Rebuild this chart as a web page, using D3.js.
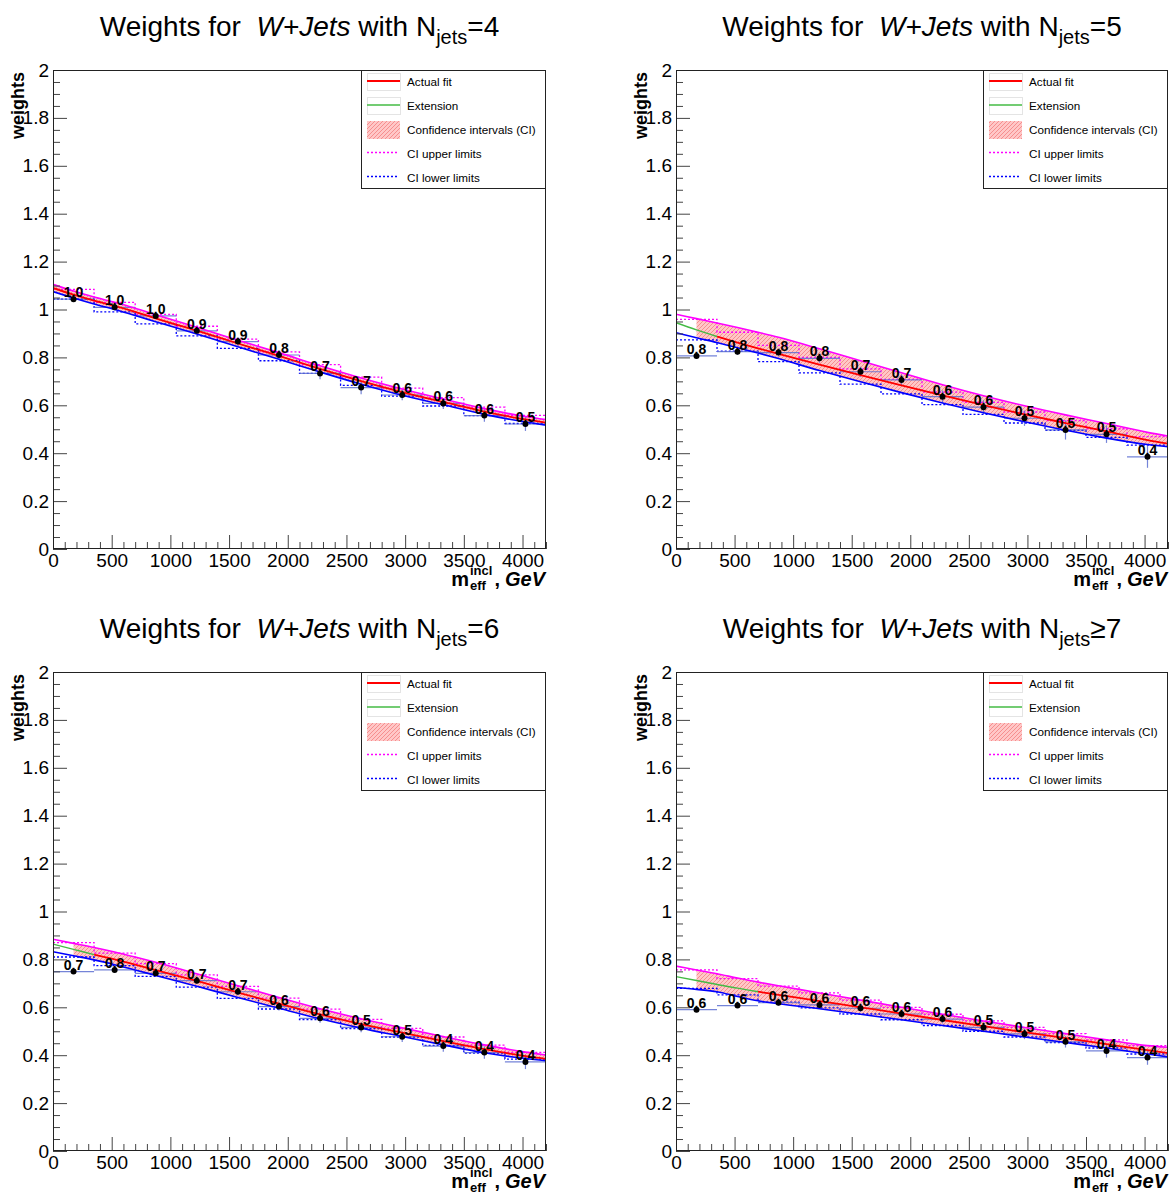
<!DOCTYPE html>
<html>
<head>
<meta charset="utf-8">
<script src="https://cdn.jsdelivr.net/npm/d3@7"></script>
<style>
  html, body { margin: 0; padding: 0; background: #fff; }
  svg { display: block; font-family: "Liberation Sans", Arial, Helvetica, sans-serif; }
</style>
</head>
<body>
<svg id="chart" width="1172" height="1199"></svg>
<script>
// ---- shared binning and axis definitions ----
const binEdges = [0, 350, 700, 1050, 1400, 1750, 2100, 2450, 2800, 3150, 3500, 3850, 4200];
const curveX   = [0, 175, 350, 525, 700, 875, 1225, 1575, 1925, 2275, 2625, 2975, 3325, 3675, 4025, 4200];
const xTicks      = [0, 500, 1000, 1500, 2000, 2500, 3000, 3500, 4000];
const xTickLabels = ["0", "500", "1000", "1500", "2000", "2500", "3000", "3500", "4000"];
const yTicks      = [0, 0.2, 0.4, 0.6, 0.8, 1, 1.2, 1.4, 1.6, 1.8, 2];
const yTickLabels = ["0", "0.2", "0.4", "0.6", "0.8", "1", "1.2", "1.4", "1.6", "1.8", "2"];
const jetLabels   = ["=4", "=5", "=6", "\u22657"];
const bandStart   = [0, 175, 175, 175];
const legendLabels = ["Actual fit", "Extension", "Confidence intervals (CI)", "CI upper limits", "CI lower limits"];

// ---- N_jets = 4 ----
const weightsNj4   = [1.043, 1.009, 0.973, 0.911, 0.866, 0.810, 0.733, 0.674, 0.643, 0.608, 0.557, 0.522];
const errorsNj4    = [0.010, 0.011, 0.013, 0.015, 0.017, 0.019, 0.024, 0.028, 0.022, 0.023, 0.026, 0.029];
const extNj4       = [null, null, null, null, null, null, null, null, null, null, null, null, null, null, null, null];
const fitNj4       = [1.090, 1.062, 1.037, 1.015, 0.990, 0.963, 0.912, 0.858, 0.806, 0.752, 0.701, 0.655, 0.614, 0.574, 0.541, 0.528];
const upperNj4     = [1.105, 1.077, 1.052, 1.030, 1.005, 0.978, 0.926, 0.872, 0.820, 0.765, 0.714, 0.668, 0.626, 0.586, 0.553, 0.540];
const lowerNj4     = [1.075, 1.048, 1.023, 1.000, 0.975, 0.949, 0.898, 0.844, 0.792, 0.739, 0.688, 0.642, 0.602, 0.562, 0.530, 0.517];
const upperBinsNj4 = [1.084, 1.030, 0.980, 0.930, 0.876, 0.823, 0.770, 0.718, 0.672, 0.632, 0.592, 0.558];
const lowerBinsNj4 = [1.043, 0.990, 0.940, 0.890, 0.838, 0.786, 0.733, 0.683, 0.638, 0.597, 0.557, 0.524];

// ---- N_jets = 5 ----
const weightsNj5   = [0.806, 0.824, 0.820, 0.796, 0.740, 0.706, 0.636, 0.592, 0.546, 0.497, 0.479, 0.385];
const errorsNj5    = [0.012, 0.014, 0.016, 0.018, 0.021, 0.023, 0.026, 0.029, 0.032, 0.040, 0.036, 0.046];
const extNj5       = [0.945, 0.915, 0.887, null, null, null, null, null, null, null, null, null, null, null, null, null];
const fitNj5       = [null, null, 0.887, 0.862, 0.838, 0.815, 0.770, 0.726, 0.683, 0.641, 0.601, 0.562, 0.526, 0.491, 0.455, 0.440];
const upperNj5     = [0.980, 0.962, 0.944, 0.925, 0.905, 0.884, 0.836, 0.786, 0.736, 0.686, 0.640, 0.598, 0.560, 0.524, 0.487, 0.472];
const lowerNj5     = [0.903, 0.882, 0.862, 0.840, 0.818, 0.795, 0.745, 0.698, 0.653, 0.610, 0.569, 0.531, 0.496, 0.463, 0.436, 0.427];
const upperBinsNj5 = [0.959, 0.905, 0.850, 0.800, 0.752, 0.708, 0.655, 0.612, 0.572, 0.536, 0.502, 0.469];
const lowerBinsNj5 = [0.873, 0.826, 0.782, 0.735, 0.688, 0.648, 0.603, 0.562, 0.526, 0.495, 0.466, 0.434];

// ---- N_jets = 6 ----
const weightsNj6   = [0.749, 0.756, 0.742, 0.711, 0.665, 0.603, 0.554, 0.516, 0.477, 0.438, 0.411, 0.372];
const errorsNj6    = [0.010, 0.010, 0.012, 0.013, 0.015, 0.016, 0.018, 0.020, 0.022, 0.024, 0.026, 0.030];
const extNj6       = [0.864, 0.842, 0.820, null, null, null, null, null, null, null, null, null, null, null, null, null];
const fitNj6       = [null, null, 0.820, 0.800, 0.778, 0.755, 0.710, 0.662, 0.615, 0.570, 0.530, 0.494, 0.459, 0.425, 0.396, 0.385];
const upperNj6     = [0.884, 0.867, 0.850, 0.831, 0.810, 0.788, 0.740, 0.690, 0.641, 0.594, 0.552, 0.514, 0.478, 0.443, 0.413, 0.401];
const lowerNj6     = [0.832, 0.815, 0.798, 0.778, 0.756, 0.733, 0.688, 0.641, 0.596, 0.552, 0.513, 0.478, 0.443, 0.410, 0.386, 0.377];
const upperBinsNj6 = [0.870, 0.826, 0.782, 0.735, 0.687, 0.638, 0.592, 0.550, 0.512, 0.476, 0.442, 0.412];
const lowerBinsNj6 = [0.810, 0.774, 0.729, 0.684, 0.637, 0.593, 0.549, 0.511, 0.476, 0.441, 0.409, 0.384];

// ---- N_jets >= 7 ----
const weightsNj7   = [0.590, 0.607, 0.619, 0.610, 0.596, 0.572, 0.551, 0.516, 0.489, 0.456, 0.418, 0.390];
const errorsNj7    = [0.010, 0.010, 0.012, 0.013, 0.015, 0.016, 0.018, 0.020, 0.022, 0.024, 0.028, 0.030];
const extNj7       = [0.728, 0.712, 0.695, 0.680, 0.665, null, null, null, null, null, null, null, null, null, null, null];
const fitNj7       = [null, null, null, null, 0.665, 0.652, 0.626, 0.600, 0.574, 0.547, 0.521, 0.496, 0.471, 0.446, 0.421, 0.409];
const upperNj7     = [0.772, 0.756, 0.740, 0.722, 0.705, 0.690, 0.660, 0.630, 0.600, 0.571, 0.543, 0.516, 0.490, 0.464, 0.440, 0.433];
const lowerNj7     = [0.683, 0.675, 0.665, 0.645, 0.627, 0.615, 0.594, 0.571, 0.548, 0.524, 0.500, 0.476, 0.453, 0.430, 0.405, 0.393];
const upperBinsNj7 = [0.756, 0.720, 0.688, 0.660, 0.630, 0.600, 0.571, 0.543, 0.516, 0.490, 0.464, 0.440];
const lowerBinsNj7 = [0.679, 0.652, 0.622, 0.598, 0.572, 0.548, 0.524, 0.500, 0.476, 0.453, 0.430, 0.405];

const panels = [
  { jets: jetLabels[0], weights: weightsNj4, errors: errorsNj4, ext: extNj4, fit: fitNj4, upper: upperNj4, lower: lowerNj4, upperBins: upperBinsNj4, lowerBins: lowerBinsNj4, band: bandStart[0] },
  { jets: jetLabels[1], weights: weightsNj5, errors: errorsNj5, ext: extNj5, fit: fitNj5, upper: upperNj5, lower: lowerNj5, upperBins: upperBinsNj5, lowerBins: lowerBinsNj5, band: bandStart[1] },
  { jets: jetLabels[2], weights: weightsNj6, errors: errorsNj6, ext: extNj6, fit: fitNj6, upper: upperNj6, lower: lowerNj6, upperBins: upperBinsNj6, lowerBins: lowerBinsNj6, band: bandStart[2] },
  { jets: jetLabels[3], weights: weightsNj7, errors: errorsNj7, ext: extNj7, fit: fitNj7, upper: upperNj7, lower: lowerNj7, upperBins: upperBinsNj7, lowerBins: lowerBinsNj7, band: bandStart[3] }
];

// frame boxes of the 2x2 grid
const frames = [
  { left: 53,  top: 70,  width: 493, height: 479 },
  { left: 676, top: 70,  width: 492, height: 479 },
  { left: 53,  top: 672, width: 493, height: 479 },
  { left: 676, top: 672, width: 492, height: 479 }
];

const COL = {
  fit: "#ff0000", ext: "#44bb44", upper: "#ff00ff", lower: "#0000ff",
  err: "#5d6fd2", axis: "#222", tick: "#444"
};

const svg = d3.select("#chart");
svg.append("rect").attr("width", 1172).attr("height", 1199).attr("fill", "#fff");

// hatched fill for the confidence band
const defs = svg.append("defs");
const pat = defs.append("pattern").attr("id", "ciHatch").attr("patternUnits", "userSpaceOnUse")
  .attr("width", 4).attr("height", 4);
pat.append("rect").attr("width", 4).attr("height", 4).attr("fill", "rgba(255,130,130,0.45)");
pat.append("path").attr("d", "M-1,1 l2,-2 M0,4 l4,-4 M3,5 l2,-2")
  .attr("stroke", "rgba(235,70,70,0.55)").attr("stroke-width", 0.8);

const fmt = d3.format(".1f");
const binCenters = d3.range(binEdges.length - 1).map(i => (binEdges[i] + binEdges[i + 1]) / 2);

panels.forEach((p, k) => {
  const f = frames[k];
  const g = svg.append("g");
  const x = d3.scaleLinear().domain([binEdges[0], binEdges[binEdges.length - 1]]).range([f.left, f.left + f.width]);
  const y = d3.scaleLinear().domain([0, 2]).range([f.top + f.height, f.top]);

  const clipId = "clip" + k;
  defs.append("clipPath").attr("id", clipId).append("rect")
    .attr("x", f.left).attr("y", f.top).attr("width", f.width).attr("height", f.height);
  const plot = g.append("g").attr("clip-path", `url(#${clipId})`);

  // confidence band
  const bandPts = curveX.map((cx, i) => ({ x: cx, lo: p.lower[i], hi: p.upper[i] }))
    .filter(d => d.x >= p.band);
  plot.append("path").datum(bandPts)
    .attr("d", d3.area().x(d => x(d.x)).y0(d => y(d.lo)).y1(d => y(d.hi)).curve(d3.curveMonotoneX))
    .attr("fill", "url(#ciHatch)").attr("stroke", "none");

  // per-bin CI limits as dotted step histograms
  const stepPath = vals => {
    const path = d3.path();
    vals.forEach((v, i) => {
      if (i === 0) path.moveTo(x(binEdges[0]), y(v));
      else path.lineTo(x(binEdges[i]), y(v));
      path.lineTo(x(binEdges[i + 1]), y(v));
    });
    return path.toString();
  };
  plot.append("path").attr("d", stepPath(p.upperBins)).attr("fill", "none")
    .attr("stroke", COL.upper).attr("stroke-width", 1.3).attr("stroke-dasharray", "2,2");
  plot.append("path").attr("d", stepPath(p.lowerBins)).attr("fill", "none")
    .attr("stroke", COL.lower).attr("stroke-width", 1.3).attr("stroke-dasharray", "2,2");

  // data error bars
  const pts = p.weights.map((w, i) => ({ x: binCenters[i], lo: binEdges[i], hi: binEdges[i + 1], w, e: p.errors[i] }));
  plot.selectAll(".xerr").data(pts).join("line")
    .attr("x1", d => x(d.lo)).attr("x2", d => x(d.hi))
    .attr("y1", d => y(d.w)).attr("y2", d => y(d.w))
    .attr("stroke", COL.err).attr("stroke-width", 1.2).attr("opacity", 0.85);
  plot.selectAll(".yerr").data(pts).join("line")
    .attr("x1", d => x(d.x)).attr("x2", d => x(d.x))
    .attr("y1", d => y(d.w - d.e)).attr("y2", d => y(d.w + d.e))
    .attr("stroke", COL.err).attr("stroke-width", 1.2).attr("opacity", 0.85);

  // smooth curves
  const curve = (vals, color, width) => {
    const data = curveX.map((cx, i) => [cx, vals[i]]);
    plot.append("path").datum(data)
      .attr("d", d3.line().defined(d => d[1] != null).x(d => x(d[0])).y(d => y(d[1])).curve(d3.curveMonotoneX))
      .attr("fill", "none").attr("stroke", color).attr("stroke-width", width);
  };
  curve(p.lower, COL.lower, 1.6);
  curve(p.upper, COL.upper, 1.6);
  curve(p.fit, COL.fit, 1.8);
  curve(p.ext, COL.ext, 1.4);

  // markers and value labels
  plot.selectAll(".mk").data(pts).join("circle")
    .attr("cx", d => x(d.x)).attr("cy", d => y(d.w)).attr("r", 3).attr("fill", "#000");
  g.selectAll(".val").data(pts).join("text")
    .attr("x", d => x(d.x)).attr("y", d => y(d.w) - 2)
    .attr("text-anchor", "middle").attr("font-size", 14).attr("font-weight", "bold")
    .attr("fill", "#000").text(d => fmt(d.w));

  // axes with ticks inside the frame
  const xMinor = d3.range(0, 4201, 100).filter(v => v % 500 !== 0);
  const yMinor = d3.range(0, 41).map(i => i * 0.05).filter((v, i) => i % 4 !== 0);
  const xAx = g.append("g").attr("transform", `translate(0,${f.top + f.height})`)
    .call(d3.axisBottom(x).tickValues(xTicks).tickSize(-14).tickPadding(5)
      .tickFormat((d, i) => xTickLabels[i]));
  const xAxMinor = g.append("g").attr("transform", `translate(0,${f.top + f.height})`)
    .call(d3.axisBottom(x).tickValues(xMinor).tickSize(-7).tickFormat(""));
  const yAx = g.append("g").attr("transform", `translate(${f.left},0)`)
    .call(d3.axisLeft(y).tickValues(yTicks).tickSize(-14).tickPadding(4)
      .tickFormat((d, i) => yTickLabels[i]));
  const yAxMinor = g.append("g").attr("transform", `translate(${f.left},0)`)
    .call(d3.axisLeft(y).tickValues(yMinor).tickSize(-7).tickFormat(""));
  [xAx, xAxMinor, yAx, yAxMinor].forEach(a => {
    a.select(".domain").remove();
    a.selectAll("line").attr("stroke", COL.tick).attr("stroke-width", 1);
    a.selectAll("text").attr("font-size", 19).attr("fill", "#000")
      .attr("font-family", "'Liberation Sans', Arial, sans-serif");
  });

  // frame
  g.append("rect").attr("x", f.left + 0.5).attr("y", f.top + 0.5)
    .attr("width", f.width - 1).attr("height", f.height - 1)
    .attr("fill", "none").attr("stroke", COL.axis).attr("stroke-width", 1);

  // title
  const cx = f.left + f.width / 2;
  const t = g.append("text").attr("x", cx).attr("y", f.top - 34).attr("text-anchor", "middle")
    .attr("font-size", 28).attr("fill", "#000");
  t.append("tspan").text("Weights for \u00a0");
  t.append("tspan").attr("font-style", "italic").text("W+Jets");
  t.append("tspan").text(" with N");
  t.append("tspan").attr("font-size", 20).attr("dy", 8).text("jets");
  t.append("tspan").attr("dy", -8).text(p.jets);

  // y axis title
  g.append("text").attr("transform", `translate(${f.left - 29},${f.top + 2}) rotate(-90)`)
    .attr("text-anchor", "end").attr("font-size", 18).attr("font-weight", "bold").text("weights");

  // x axis title: m_eff^incl, GeV
  const right = f.left + f.width;
  const base = f.top + f.height + 37;
  const gev = g.append("text").attr("x", right - 1).attr("y", base).attr("text-anchor", "end")
    .attr("font-size", 20).attr("font-weight", "bold").attr("font-style", "italic").text("GeV");
  const gevW = gev.node().getComputedTextLength();
  const comma = g.append("text").attr("x", right - 1 - gevW - 5).attr("y", base).attr("text-anchor", "end")
    .attr("font-size", 20).attr("font-weight", "bold").text(",");
  const commaW = comma.node().getComputedTextLength();
  const stackRight = right - 1 - gevW - 5 - commaW - 2;
  const sup = g.append("text").attr("x", stackRight).attr("y", base - 11).attr("text-anchor", "end")
    .attr("font-size", 13).attr("font-weight", "bold").text("incl");
  const supW = sup.node().getComputedTextLength();
  g.append("text").attr("x", stackRight - supW).attr("y", base + 4)
    .attr("font-size", 13).attr("font-weight", "bold").text("eff");
  g.append("text").attr("x", stackRight - supW - 1).attr("y", base).attr("text-anchor", "end")
    .attr("font-size", 20).attr("font-weight", "bold").text("m");

  // legend
  const lw = 185, lh = 118;
  const lx = right - lw, ly = f.top;
  const lg = g.append("g");
  lg.append("rect").attr("x", lx + 0.5).attr("y", ly + 0.5).attr("width", lw - 1).attr("height", lh)
    .attr("fill", "#fff").attr("stroke", COL.axis).attr("stroke-width", 1);
  legendLabels.forEach((lab, i) => {
    const ey = ly + 12 + i * 24;
    const sx = lx + 6, sw = 33;
    if (i < 2) {
      lg.append("rect").attr("x", sx + 0.5).attr("y", ey - 8.5).attr("width", sw).attr("height", 17)
        .attr("fill", "none").attr("stroke", "#e4e4e4").attr("stroke-width", 1);
      lg.append("line").attr("x1", sx).attr("x2", sx + sw).attr("y1", ey - 1).attr("y2", ey - 1)
        .attr("stroke", i === 0 ? COL.fit : COL.ext).attr("stroke-width", i === 0 ? 1.8 : 1.4);
    } else if (i === 2) {
      lg.append("rect").attr("x", sx).attr("y", ey - 9).attr("width", sw).attr("height", 18)
        .attr("fill", "url(#ciHatch)");
    } else {
      lg.append("line").attr("x1", sx).attr("x2", sx + sw - 2).attr("y1", ey - 1.5).attr("y2", ey - 1.5)
        .attr("stroke", i === 3 ? COL.upper : COL.lower).attr("stroke-width", 1.3)
        .attr("stroke-dasharray", "2,2");
    }
    lg.append("text").attr("x", lx + 46).attr("y", ey + 4).attr("font-size", 11.7)
      .attr("fill", "#000").text(lab);
  });
});
</script>
</body>
</html>
